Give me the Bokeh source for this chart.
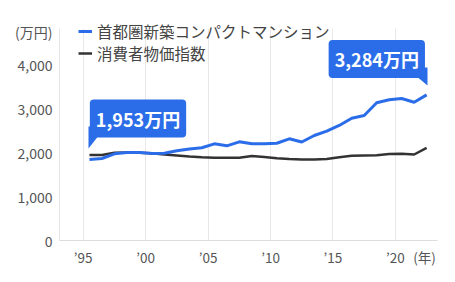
from bokeh.plotting import figure
from bokeh.models import (FixedTicker, Label, Range1d, BoxAnnotation,
                          ColumnDataSource, Legend, LegendItem, CustomJSTickFormatter)
from bokeh.embed import file_html
from bokeh.resources import INLINE

# ---- data ----
years = list(range(1995, 2023))
condo = [1841, 1864, 1970, 2000, 2000, 1980, 1985, 2040, 2080, 2107, 2197,
         2152, 2243, 2197, 2197, 2211, 2311, 2239, 2386, 2484, 2614, 2780,
         2841, 3130, 3198, 3227, 3143, 3310]
cpi = [1943, 1943, 1993, 2000, 1993, 1985, 1955, 1932, 1909, 1893, 1880,
       1880, 1880, 1920, 1898, 1870, 1852, 1841, 1841, 1852, 1893, 1925,
       1932, 1939, 1966, 1970, 1955, 2107]
series_names = ["首都圏新築コンパクトマンション", "消費者物価指数"]
x_ticks = [1995, 2000, 2005, 2010, 2015, 2020]
x_tick_labels = ["’95", "’00", "’05", "’10", "’15", "’20"]
y_ticks = [0, 1000, 2000, 3000, 4000]
y_tick_labels = ["0", "1,000", "2,000", "3,000", "4,000"]
callout_texts = ["1,953万円", "3,284万円"]
y_unit = "(万円)"
x_unit = "(年)"

BLUE = "#2b6de8"
DARK = "#333333"
FONT = "Noto Sans CJK JP"

W, H = 455, 282
FL, FR, FT, FB = 59, 437, 0, 240     # frame in canvas pixels
PLOT_TOP = 28                        # visible top of the plotting area
X0, X1 = 1993.10, 2023.37
YPX = 44.0 / 1000                    # pixels per value unit


def dx(px):
    return X0 + (px - FL) / (FR - FL) * (X1 - X0)


def dy(py):
    return (FB - py) / YPX


Y0, Y1 = 0, dy(FT)

xs = [y + 0.5 for y in years]
src = ColumnDataSource(dict(x=xs, condo=condo, cpi=cpi))

p = figure(width=W, height=H, output_backend="svg", toolbar_location=None,
           x_range=Range1d(X0, X1), y_range=Range1d(Y0, Y1),
           min_border_left=FL, min_border_right=W - FR,
           min_border_top=FT, min_border_bottom=H - FB)
p.outline_line_color = None
p.background_fill_color = "white"
p.border_fill_color = "white"

# axis ticks (plus unit labels placed as extra tick labels)
xunit_pos = round(dx(424), 3)
yunit_pos = round(dy(32), 1)
p.xaxis.ticker = FixedTicker(ticks=x_ticks + [xunit_pos])
p.xaxis.major_label_overrides = {**dict(zip(x_ticks, x_tick_labels)), xunit_pos: x_unit}
p.yaxis.ticker = FixedTicker(ticks=y_ticks + [yunit_pos])
p.yaxis.major_label_overrides = {**dict(zip(y_ticks, y_tick_labels)), yunit_pos: y_unit}
p.yaxis.bounds = (0, dy(PLOT_TOP))
for ax in (p.xaxis, p.yaxis):
    ax.major_tick_line_color = None
    ax.minor_tick_line_color = None
    ax.major_label_text_font = FONT
    ax.major_label_text_color = "#555555"
p.xaxis.major_label_text_font_size = "13.5px"
p.yaxis.major_label_text_font_size = "14px"
p.xaxis.major_label_standoff = 0
p.yaxis.major_label_standoff = 1
p.xaxis.axis_line_color = "#dddddd"
p.yaxis.axis_line_color = "#e6e6e6"
p.xgrid.grid_line_color = "#e8e8e8"
p.xgrid.ticker = FixedTicker(ticks=x_ticks)
p.ygrid.grid_line_color = None

# white cover above the plotting area so grid lines start at its top
p.add_layout(BoxAnnotation(bottom=dy(PLOT_TOP), fill_color="white", fill_alpha=1,
                           line_color=None, level="underlay"))

r_cpi = p.line("x", "cpi", source=src, line_color=DARK, line_width=2.5)
r_condo = p.line("x", "condo", source=src, line_color=BLUE, line_width=3)

legend = Legend(items=[LegendItem(label=series_names[0], renderers=[r_condo]),
                       LegendItem(label=series_names[1], renderers=[r_cpi])],
                location=(19, 176), orientation="vertical")
legend.background_fill_alpha = 0
legend.border_line_color = None
legend.padding = 0
legend.margin = 0
legend.spacing = 0
legend.label_height = 22
legend.glyph_height = 22
legend.glyph_width = 14
legend.label_standoff = 5
legend.label_text_font = FONT
legend.label_text_font_size = "15.5px"
legend.label_text_color = "#444444"
p.add_layout(legend, "center")

# callout 1: first condo point
p.patch([dx(88), dx(88), dx(99), dx(99)], [dy(126), dy(148), dy(134), dy(126)],
        fill_color=BLUE, line_color=None)
p.add_layout(Label(x=dx(137.5), y=dy(118), text=callout_texts[0], text_font=FONT,
                   text_font_size="18px", text_font_style="bold", text_color="white",
                   text_align="center", text_baseline="middle",
                   background_fill_color=BLUE, padding=6, border_radius=4))

# callout 2: last condo point
p.patch([dx(415), dx(427), dx(427), dx(415)], [dy(67), dy(67), dy(85), dy(75)],
        fill_color=BLUE, line_color=None)
p.add_layout(Label(x=dx(376.3), y=dy(58.5), text=callout_texts[1], text_font=FONT,
                   text_font_size="18px", text_font_style="bold", text_color="white",
                   text_align="center", text_baseline="middle",
                   background_fill_color=BLUE, padding=6, border_radius=4))

open("out.html", "w").write(file_html(p, INLINE))
